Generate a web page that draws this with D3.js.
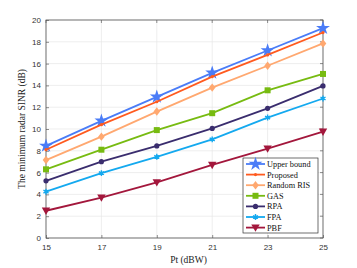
<!DOCTYPE html>
<html>
<head>
<meta charset="utf-8">
<script src="https://cdn.jsdelivr.net/npm/d3@7"></script>
<style>
  body { margin: 0; background: #fff; }
  svg { display: block; }
</style>
</head>
<body>
<div id="chart"></div>
<script>
const xValues = [15, 17, 19, 21, 23, 25];
const yTicks = [0, 2, 4, 6, 8, 10, 12, 14, 16, 18, 20];

const upperBound = [8.45, 10.75, 12.95, 15.15, 17.2, 19.25];
const proposed   = [8.1, 10.4, 12.5, 14.8, 16.8, 18.85];
const randomRis  = [7.15, 9.3, 11.6, 13.8, 15.8, 17.85];
const gas        = [6.3, 8.1, 9.9, 11.45, 13.55, 15.05];
const rpa        = [5.25, 7.0, 8.45, 10.05, 11.9, 13.95];
const fpa        = [4.25, 5.95, 7.45, 9.05, 11.05, 12.8];
const pbf        = [2.5, 3.7, 5.1, 6.7, 8.2, 9.75];

const series = [
  { name: 'Upper bound', values: upperBound, color: '#4a7cf7', marker: 'star' },
  { name: 'Proposed', values: proposed, color: '#ff5a1f', marker: 'dot' },
  { name: 'Random RIS', values: randomRis, color: '#ffa870', marker: 'diamond' },
  { name: 'GAS', values: gas, color: '#77bb11', marker: 'square' },
  { name: 'RPA', values: rpa, color: '#3a2d6e', marker: 'circle' },
  { name: 'FPA', values: fpa, color: '#14a9ef', marker: 'asterisk' },
  { name: 'PBF', values: pbf, color: '#a3173c', marker: 'triangle' }
];

const W = 357, H = 268;
const margin = { top: 20, right: 34, bottom: 30, left: 46 };
const width = W - margin.left - margin.right;
const height = H - margin.top - margin.bottom;

const svg = d3.select('#chart').append('svg')
  .attr('width', W).attr('height', H);
const g = svg.append('g').attr('transform', `translate(${margin.left},${margin.top})`);

const x = d3.scaleLinear().domain([15, 25]).range([0, width]);
const y = d3.scaleLinear().domain([0, 20]).range([height, 0]);

// grid
g.append('g').selectAll('line').data(xValues).join('line')
  .attr('x1', d => x(d)).attr('x2', d => x(d)).attr('y1', 0).attr('y2', height)
  .attr('stroke', '#e6e6e6').attr('stroke-width', 0.7);
g.append('g').selectAll('line').data(yTicks).join('line')
  .attr('x1', 0).attr('x2', width).attr('y1', d => y(d)).attr('y2', d => y(d))
  .attr('stroke', '#e6e6e6').attr('stroke-width', 0.7);

// axes
const tickFont = 'Liberation Sans, Arial, sans-serif';
const xAxis = g.append('g').attr('transform', `translate(0,${height})`)
  .call(d3.axisBottom(x).tickValues(xValues).tickSize(-3).tickPadding(6));
const yAxis = g.append('g')
  .call(d3.axisLeft(y).tickValues(yTicks).tickSize(-3).tickPadding(5));
[xAxis, yAxis].forEach(a => {
  a.select('.domain').remove();
  a.selectAll('line').attr('stroke', '#444').attr('stroke-width', 0.6);
  a.selectAll('text').attr('fill', '#333').style('font-family', tickFont).style('font-size', '8px');
});
// top/right ticks
g.append('g').selectAll('line').data(xValues).join('line')
  .attr('x1', d => x(d)).attr('x2', d => x(d)).attr('y1', 0).attr('y2', 3)
  .attr('stroke', '#444').attr('stroke-width', 0.6);
g.append('g').selectAll('line').data(yTicks).join('line')
  .attr('x1', width - 3).attr('x2', width).attr('y1', d => y(d)).attr('y2', d => y(d))
  .attr('stroke', '#444').attr('stroke-width', 0.6);

g.append('rect').attr('width', width).attr('height', height)
  .attr('fill', 'none').attr('stroke', '#555').attr('stroke-width', 0.8);

// labels
g.append('text')
  .attr('x', width / 2 + 4).attr('y', height + 25)
  .attr('text-anchor', 'middle')
  .style('font-family', 'Liberation Serif, Times New Roman, serif').style('font-size', '9.5px')
  .attr('fill', '#222')
  .text('Pt (dBW)');
g.append('text')
  .attr('transform', `translate(-21,${height / 2}) rotate(-90)`)
  .attr('text-anchor', 'middle')
  .style('font-family', 'Liberation Serif, Times New Roman, serif').style('font-size', '9.5px')
  .attr('fill', '#222')
  .text('The minimum radar SINR (dB)');

function drawMarker(sel, type, color, s) {
  if (type === 'star') {
    sel.append('path').attr('d', d3.symbol(d3.symbolStar, 60 * s)()).attr('fill', color);
  } else if (type === 'dot') {
    sel.append('circle').attr('r', 1.6 * s).attr('fill', color);
  } else if (type === 'diamond') {
    sel.append('path').attr('d', 'M0,-4.2L3.3,0L0,4.2L-3.3,0Z').attr('transform', `scale(${s})`).attr('fill', color);
  } else if (type === 'square') {
    sel.append('rect').attr('x', -3 * s).attr('y', -3 * s).attr('width', 6 * s).attr('height', 6 * s).attr('fill', color);
  } else if (type === 'circle') {
    sel.append('circle').attr('r', 2.6 * s).attr('fill', color);
  } else if (type === 'asterisk') {
    sel.append('path').attr('d', d3.symbol(d3.symbolAsterisk, 24 * s)())
      .attr('stroke', color).attr('stroke-width', 1.4).attr('fill', 'none');
    sel.append('circle').attr('r', 1.5 * s).attr('fill', color);
  } else if (type === 'triangle') {
    sel.append('path').attr('d', 'M-4.2,-3.2L4.2,-3.2L0,4.2Z').attr('transform', `scale(${s})`).attr('fill', color);
  }
}

const line = d3.line().x((d, i) => x(xValues[i])).y(d => y(d));

series.forEach(s => {
  g.append('path').datum(s.values)
    .attr('fill', 'none').attr('stroke', s.color).attr('stroke-width', 1.8)
    .attr('d', line);
  s.values.forEach((v, i) => {
    const m = g.append('g').attr('transform', `translate(${x(xValues[i])},${y(v)})`);
    drawMarker(m, s.marker, s.color, 1);
  });
});

// legend
const lg = svg.append('g').attr('transform', 'translate(243,158)');
lg.append('rect').attr('width', 75).attr('height', 75)
  .attr('fill', '#fff').attr('stroke', '#333').attr('stroke-width', 0.7);
series.forEach((s, i) => {
  const row = lg.append('g').attr('transform', `translate(0,${6 + i * 10.6})`);
  row.append('line').attr('x1', 3).attr('x2', 22).attr('stroke', s.color).attr('stroke-width', 1.8);
  const m = row.append('g').attr('transform', 'translate(12.5,0)');
  drawMarker(m, s.marker, s.color, 1);
  row.append('text').attr('x', 24).attr('y', 3)
    .style('font-family', 'Liberation Serif, Times New Roman, serif').style('font-size', '8.3px')
    .attr('fill', '#111')
    .text(s.name);
});
</script>
</body>
</html>
